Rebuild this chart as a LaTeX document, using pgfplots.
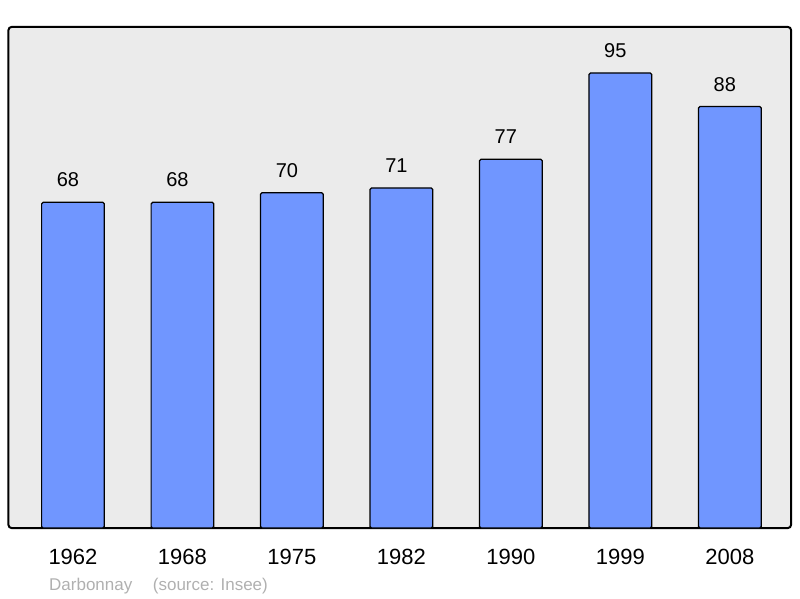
\documentclass[border=0pt]{standalone}
\usepackage{fontspec}
\setmainfont{Liberation Sans}
\usepackage{pgfplots}
\pgfplotsset{compat=1.18}
\definecolor{barblue}{RGB}{112,150,255}
\definecolor{bggray}{RGB}{235,235,235}
\definecolor{srcgray}{RGB}{176,176,176}
\begin{document}
\begin{tikzpicture}[x=1pt,y=1pt]
\path[use as bounding box] (0,0) rectangle (800,598);
\begin{axis}[
  at={(8.5pt,70pt)}, anchor=south west,
  scale only axis, width=782.5pt, height=501pt,
  xmin=-0.589, xmax=6.559, ymin=0, ymax=104.6,
  enlargelimits=false,
  axis background/.style={fill=bggray,draw=black,line width=2pt,rounded corners=3pt},
  axis line style={draw=none},
  tick style={draw=none},
  ytick=\empty,
  xtick={0,1,2,3,4,5,6},
  xticklabels={1962,1968,1975,1982,1990,1999,2008},
  xticklabel style={font=\fontsize{22}{26}\selectfont, anchor=base, yshift=-32.5pt},
  /pgf/number format/assume math mode=true,
  ybar, bar width=62.7pt,
  nodes near coords,
  every node near coord/.append style={font=\fontsize{20}{24}\selectfont, anchor=base, yshift=15.5pt, xshift=-5pt},
]
\addplot[fill=barblue, draw=black, line width=1.2pt, rounded corners=1.5pt]
  coordinates {(0,68) (1,68) (2,70) (3,71) (4,77) (5,95) (6,88)};
\end{axis}
\node[anchor=base west, text=srcgray, font=\fontsize{17}{20}\selectfont, inner sep=0pt] at (49,8) {Darbonnay};
\node[anchor=base west, text=srcgray, font=\fontsize{17}{20}\selectfont, inner sep=0pt] at (152.7,8) {(source: Insee)};
\end{tikzpicture}
\end{document}
